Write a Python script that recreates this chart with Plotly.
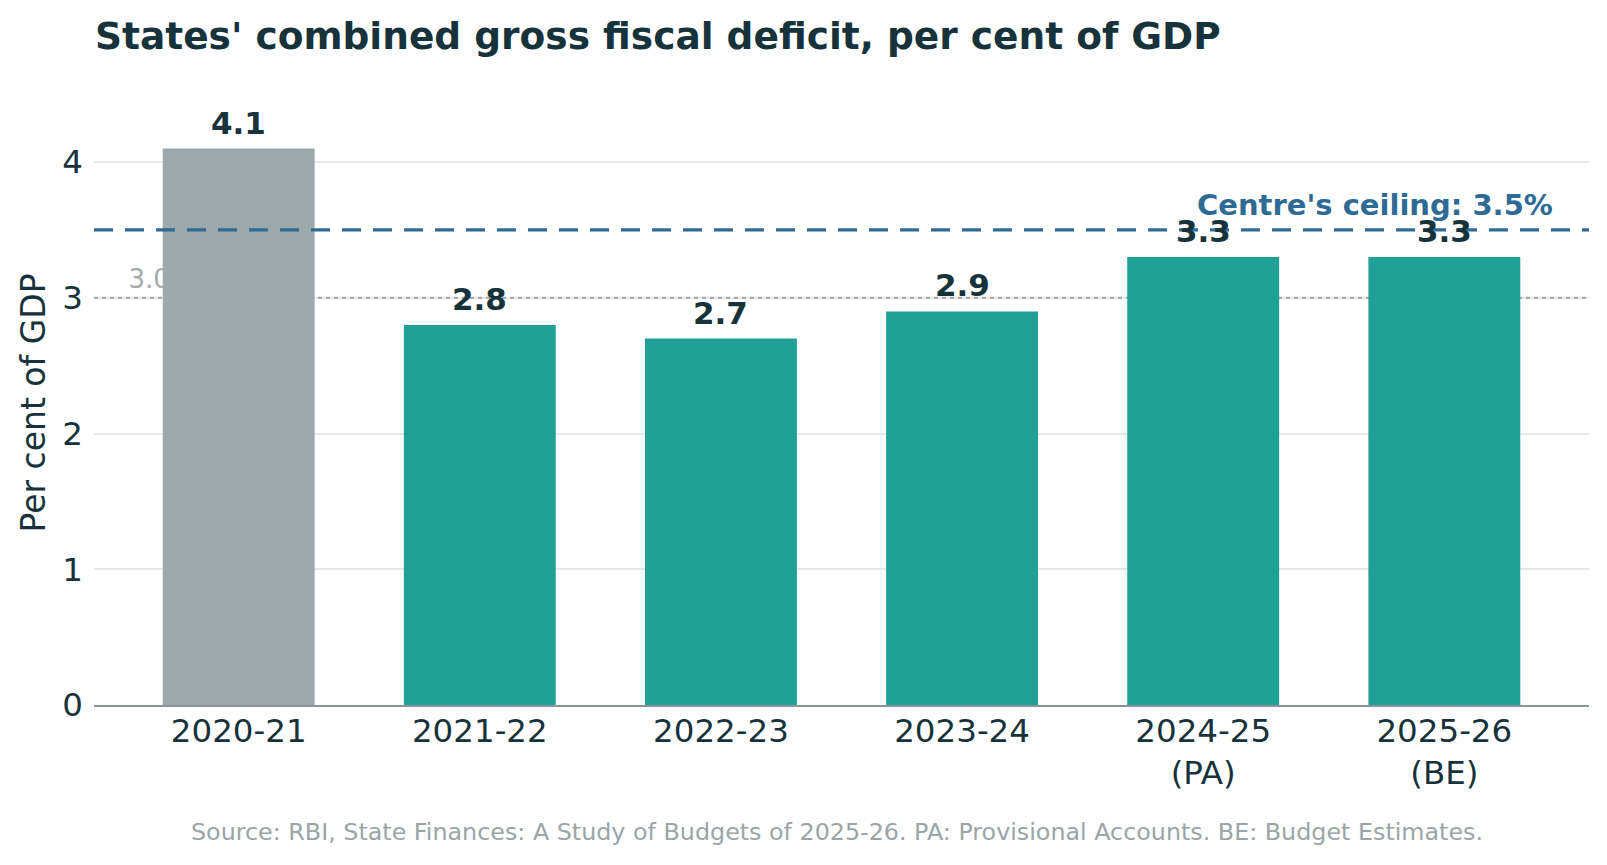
import plotly.graph_objects as go

years = ["2020-21", "2021-22", "2022-23", "2023-24", "2024-25<br>(PA)", "2025-26<br>(BE)"]
deficit = [4.1, 2.8, 2.7, 2.9, 3.3, 3.3]
bar_colors = ["#9ca8aa", "#20a096", "#20a096", "#20a096", "#20a096", "#20a096"]
ceiling = 3.5
frbm = 3.0

dark = "#16323a"
xs = list(range(len(years)))

fig = go.Figure()
fig.add_trace(go.Bar(
    x=xs, y=deficit, marker=dict(color=bar_colors, line=dict(width=0)),
    width=0.63, hoverinfo="skip", showlegend=False,
))

for x, v in zip(xs, deficit):
    fig.add_annotation(x=x, y=v, text=f"<b>{v:.1f}</b>", showarrow=False,
                       yanchor="bottom", yshift=6,
                       font=dict(family="DejaVu Sans", size=31, color=dark))

# dotted 3% line below bars
fig.add_shape(type="line", xref="x", yref="y", x0=-0.6, x1=5.6, y0=frbm, y1=frbm,
              line=dict(color="#a6abac", width=2.2, dash="4px,4px"), layer="between")
fig.add_shape(type="line", xref="x", yref="y", x0=-0.457, x1=-0.2, y0=frbm, y1=frbm,
              line=dict(width=0), layer="between",
              label=dict(text=f"{frbm:.1f}", textposition="start", yanchor="bottom",
                         padding=6, font=dict(family="DejaVu Sans", size=26, color="#a6abac")))

# dashed ceiling line above bars
fig.add_shape(type="line", xref="x", yref="y", x0=-0.6, x1=5.6, y0=ceiling, y1=ceiling,
              line=dict(color="#2e6b94", width=3.2, dash="19px,12px"), layer="above")
fig.add_annotation(xref="paper", x=0.977, y=ceiling, yref="y", xanchor="right",
                   yanchor="bottom", yshift=6, showarrow=False,
                   text=f"<b>Centre's ceiling: {ceiling}%</b>",
                   font=dict(family="DejaVu Sans", size=29, color="#2e6b94"))

fig.add_annotation(xref="paper", yref="paper", x=0.497, y=-0.183, xanchor="center",
                   yanchor="top", showarrow=False,
                   text="Source: RBI, State Finances: A Study of Budgets of 2025-26. PA: Provisional Accounts. BE: Budget Estimates.",
                   font=dict(family="DejaVu Sans", size=23.8, color="#9aa5a8"))

fig.update_layout(
    width=1607, height=865,
    paper_bgcolor="white", plot_bgcolor="white",
    margin=dict(l=94, r=18, t=101, b=160),
    title=dict(text="<b>States' combined gross fiscal deficit, per cent of GDP</b>",
               x=95/1607, xanchor="left", y=1-36/865, yanchor="middle",
               font=dict(family="DejaVu Sans", size=37.5, color=dark)),
    font=dict(family="DejaVu Sans", color=dark),
    xaxis=dict(tickmode="array", tickvals=xs, ticktext=years, range=[-0.6, 5.6],
               showgrid=False, showline=True, linecolor="#8a9597", linewidth=1.5,
               ticks="", tickfont=dict(size=32.5, color=dark), zeroline=False,
               ticklabelstandoff=-4),
    yaxis=dict(range=[0, 4.45], tickvals=[0, 1, 2, 3, 4], showgrid=True,
               gridcolor="#e6e8e8", gridwidth=1.5, zeroline=False, showline=False,
               ticks="", tickfont=dict(size=32.5, color=dark), ticklabelstandoff=10,
               title=dict(text="Per cent of GDP", font=dict(size=33, color=dark), standoff=6)),
)

fig.write_html("out.html")
